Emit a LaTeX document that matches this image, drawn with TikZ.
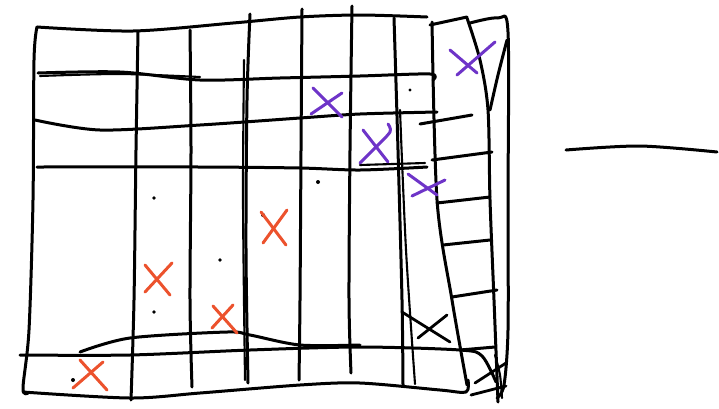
\documentclass[tikz,border=0pt]{standalone}
\definecolor{inkpurple}{RGB}{110,52,200}
\definecolor{inkred}{RGB}{236,82,45}
\tikzset{
  ink/.style={line width=3pt, line cap=round, line join=round, black},
  thin ink/.style={line width=2.1pt, line cap=round, line join=round, black},
  purplex/.style={line width=3pt, line cap=round, inkpurple},
  redx/.style={line width=3pt, line cap=round, inkred},
  blackx/.style={line width=2.8pt, line cap=round, black}
}
\begin{document}
\begin{tikzpicture}[x=1pt,y=-1pt]
\useasboundingbox (0,0) rectangle (719,408);
% outer frame: left and top
\draw[ink] plot[smooth] coordinates {(37,27) (34,60) (33,200) (29,330) (23,388) (28,393)};
\draw[ink] plot[smooth] coordinates {(37,27) (133,31) (233,23) (300,17) (360,15) (427,17)};
% verticals
\draw[ink] plot[smooth] coordinates {(138,32) (136,150) (134,300) (131,400)};
\draw[ink] plot[smooth] coordinates {(190,30) (191,150) (190,300) (192,387)};
\draw[ink] plot[smooth] coordinates {(250,14) (247,100) (246,250) (248,383)};
\draw[thin ink] plot[smooth] coordinates {(244,60) (243,200) (245,380)};
\draw[ink] plot[smooth] coordinates {(302,9) (301,150) (300,300) (299,380)};
\draw[ink] plot[smooth] coordinates {(352,6) (350,150) (349,300) (351,373)};
\draw[ink] plot[smooth] coordinates {(394,18) (398,150) (402,300) (403,385)};
\draw[thin ink] plot[smooth] coordinates {(400,110) (406,250) (415,384)};
% ladder
\draw[ink] plot[smooth] coordinates {(432,22) (437,200) (452,300) (467,385)};
\draw[ink] plot[smooth] coordinates {(467,18) (480,60) (488,110) (490,200) (494,300) (498,402)};
\draw[ink] (430,25) -- (467,17);
\draw[ink] plot[smooth] coordinates {(470,23) (498,18) (508,32) (508,200) (508,330) (504,385) (497,398)};
\draw[ink] plot[smooth] coordinates {(507,40) (498,75) (490,110)};
\draw[ink] (432,160) -- (492,152);
\draw[ink] (437,203) -- (490,197);
\draw[ink] (443,245) -- (490,240);
\draw[ink] (452,297) -- (497,290);
\draw[ink] (460,350) -- (495,347);
% horizontals
\draw[ink] plot[smooth] coordinates {(38,73) (120,72) (200,80) (280,78) (360,76) (430,74) (433,80)};
\draw[thin ink] plot[smooth] coordinates {(40,76) (120,74) (200,77)};
\draw[ink] plot[smooth] coordinates {(35,120) (100,130) (200,125) (300,118) (360,114) (437,112)};
\draw[ink] (420,124) -- (472,115);
\draw[ink] plot[smooth] coordinates {(37,167) (200,167) (300,168) (360,170) (427,167)};
\draw[thin ink] (360,165) -- (425,163);
% bottom band
\draw[ink] plot[smooth] coordinates {(20,355) (130,355) (250,350) (360,347) (460,350) (482,356) (496,382)};
\draw[ink] plot[smooth] coordinates {(80,352) (130,338) (227,332) (250,335) (300,345) (360,345)};
\draw[ink] plot[smooth] coordinates {(23,392) (130,398) (200,393) (300,385) (360,383) (440,390) (466,392) (468,380)};
% right line
\draw[ink] plot[smooth] coordinates {(566,150) (640,146) (717,152)};
% dots
\fill (154,198) circle (1.8);
\fill (220,260) circle (1.8);
\fill (154,312) circle (1.8);
\fill (318,182) circle (2);
\fill (410,90) circle (1.6);
\fill (73,380) circle (2);
\fill (263,215) circle (2);
% purple crosses
\draw[purplex] (313,88) -- (342,117);
\draw[purplex] (342,93) -- (311,114);
\draw[purplex] plot[smooth] coordinates {(388,124) (390,132) (375,148) (360,163)};
\draw[purplex] (363,130) -- (388,162);
\draw[purplex] (408,174) -- (437,195);
\draw[purplex] (412,196) -- (445,180);
\draw[purplex] (450,50) -- (477,73);
\draw[purplex] (495,42) -- (457,75);
% red crosses
\draw[redx] (261,212) -- (286,245);
\draw[redx] (287,210) -- (263,243);
\draw[redx] (145,265) -- (170,295);
\draw[redx] (172,263) -- (145,292);
\draw[redx] (213,306) -- (237,333);
\draw[redx] (233,305) -- (212,328);
\draw[redx] (80,360) -- (107,390);
\draw[redx] (103,362) -- (73,388);
% black crosses
\draw[blackx] (402,312) -- (450,342);
\draw[blackx] (447,315) -- (418,338);
\draw[blackx] (475,383) -- (506,363);
\draw[blackx] (471,395) -- (506,386);
\draw[thin ink] plot[smooth] coordinates {(495,355) (500,375) (502,398)};
\end{tikzpicture}
\end{document}
